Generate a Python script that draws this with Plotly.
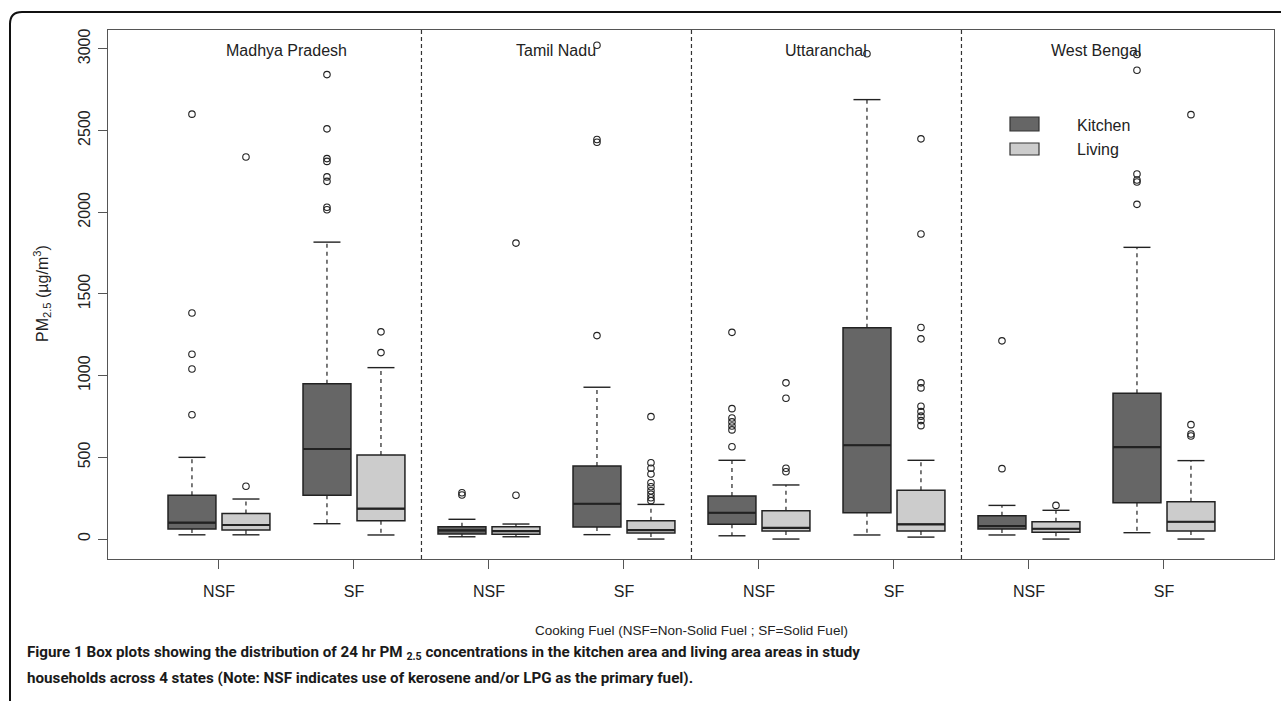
import plotly.graph_objects as go

# ---------------- data ----------------
states = ["Madhya Pradesh", "Tamil Nadu", "Uttaranchal", "West Bengal"]
fuel_labels = ["NSF", "SF"]

# order: MP-NSF, MP-SF, TN-NSF, TN-SF, UT-NSF, UT-SF, WB-NSF, WB-SF
kitchen_low = [26, 94, 14, 27, 20, 25, 25, 39]
kitchen_q1 = [61, 268, 31, 74, 90, 161, 61, 222]
kitchen_med = [100, 551, 53, 216, 161, 574, 80, 562]
kitchen_q3 = [268, 950, 75, 447, 263, 1293, 143, 892]
kitchen_up = [500, 1817, 121, 929, 482, 2689, 206, 1785]
kitchen_out = [
    [761, 1041, 1131, 1383, 2600],
    [2015, 2030, 2189, 2216, 2311, 2328, 2510, 2842],
    [270, 283],
    [1245, 2428, 2445, 3022],
    [565, 668, 692, 717, 741, 798, 1265],
    [2970],
    [431, 1213],
    [2048, 2185, 2197, 2234, 2869, 2965],
]

living_low = [26, 25, 14, 0, 0, 12, 0, 0]
living_q1 = [55, 112, 30, 37, 49, 49, 41, 49]
living_med = [86, 186, 48, 55, 69, 90, 63, 106]
living_q3 = [157, 515, 76, 112, 173, 298, 106, 229]
living_up = [245, 1049, 92, 212, 331, 482, 176, 480]
living_out = [
    [323, 2338],
    [1141, 1268],
    [268, 1811],
    [235, 253, 274, 296, 320, 345, 398, 433, 467, 749],
    [412, 433, 862, 956],
    [694, 725, 752, 780, 813, 925, 956, 1225, 1295, 1867, 2449],
    [206],
    [631, 643, 700, 2597],
]

y_ticks = [0, 500, 1000, 1500, 2000, 2500, 3000]

# ---------------- layout geometry ----------------
W, H = 1281, 701
L, R, T, B = 108, 7, 30, 142
PW = W - L - R
PH = H - T - B


def px(xp):
    return (xp - L) / PW


def py(yp):
    return (T + PH - yp) / PH


positions = list(range(1, 2 * len(states) + 1))
tick_text = fuel_labels * len(states)
OFF = 0.2
BOXW = 0.355
CAP = 0.1
LINE = "#222222"
FONT = "Liberation Sans, Arial, sans-serif"

fig = go.Figure()

series = [
    ("Kitchen", "#666666", -OFF, kitchen_low, kitchen_q1, kitchen_med, kitchen_q3, kitchen_up, kitchen_out),
    ("Living", "#cccccc", OFF, living_low, living_q1, living_med, living_q3, living_up, living_out),
]

for name, fill, off, low, q1, med, q3, up, outs in series:
    xs = [p + off for p in positions]
    # dashed whiskers
    wx, wy = [], []
    for x, lo, a, b, u in zip(xs, low, q1, q3, up):
        wx += [x, x, None, x, x, None]
        wy += [a, lo, None, b, u, None]
    fig.add_trace(go.Scatter(x=wx, y=wy, mode="lines",
                             line=dict(color=LINE, width=1.2, dash="4px,4px"),
                             showlegend=False, hoverinfo="skip"))
    # whisker caps
    cx, cy = [], []
    for x, lo, u in zip(xs, low, up):
        cx += [x - CAP, x + CAP, None, x - CAP, x + CAP, None]
        cy += [lo, lo, None, u, u, None]
    fig.add_trace(go.Scatter(x=cx, y=cy, mode="lines",
                             line=dict(color=LINE, width=1.4),
                             showlegend=False, hoverinfo="skip"))
    # boxes
    fig.add_trace(go.Box(x=xs, q1=q1, median=med, q3=q3,
                         lowerfence=q1, upperfence=q3,
                         width=BOXW, whiskerwidth=0,
                         fillcolor=fill, line=dict(color=LINE, width=1.5),
                         boxpoints=False, name=name, showlegend=False))
    # thicker median lines (R style)
    mx, my = [], []
    for x, m in zip(xs, med):
        mx += [x - BOXW / 2, x + BOXW / 2, None]
        my += [m, m, None]
    fig.add_trace(go.Scatter(x=mx, y=my, mode="lines",
                             line=dict(color=LINE, width=2.2),
                             showlegend=False, hoverinfo="skip"))
    # outliers
    ox, oy = [], []
    for x, o in zip(xs, outs):
        ox += [x] * len(o)
        oy += o
    fig.add_trace(go.Scatter(x=ox, y=oy, mode="markers",
                             marker=dict(symbol="circle-open", size=6.5,
                                         color=LINE, line=dict(width=1.1)),
                             showlegend=False, hoverinfo="skip"))

shapes = []
# dashed separators between states
for i in range(1, len(states)):
    xsep = 2 * i + 0.5
    shapes.append(dict(type="line", xref="x", yref="paper", x0=xsep, x1=xsep,
                       y0=0, y1=1, line=dict(color="#333", width=1.2, dash="4px,3px")))

# legend swatches
shapes.append(dict(type="rect", xref="paper", yref="paper",
                   x0=px(1010), x1=px(1039), y0=py(131), y1=py(117),
                   fillcolor="#666666", line=dict(color="#333", width=1.2)))
shapes.append(dict(type="rect", xref="paper", yref="paper",
                   x0=px(1010), x1=px(1039), y0=py(155), y1=py(143),
                   fillcolor="#cccccc", line=dict(color="#333", width=1.2)))

# outer rounded frame (top-left corner)
path = (f"M {px(10)} {py(720)} L {px(10)} {py(24)} "
        f"Q {px(10)} {py(12)} {px(22)} {py(12)} L {px(1300)} {py(12)}")
shapes.append(dict(type="path", xref="paper", yref="paper", path=path,
                   line=dict(color="#111", width=2)))

annotations = []
for i, s in enumerate(states):
    annotations.append(dict(text=s, xref="x", yref="paper", x=2 * i + 1.5, y=py(50),
                            showarrow=False, xanchor="center", yanchor="middle",
                            font=dict(size=16, family=FONT, color="#222")))

annotations.append(dict(text="Kitchen", xref="paper", yref="paper", x=px(1075), y=py(125),
                        showarrow=False, xanchor="left", yanchor="middle",
                        font=dict(size=16, family=FONT, color="#222")))
annotations.append(dict(text="Living", xref="paper", yref="paper", x=px(1075), y=py(149),
                        showarrow=False, xanchor="left", yanchor="middle",
                        font=dict(size=16, family=FONT, color="#222")))

annotations.append(dict(text="PM<sub>2.5</sub> (µg/m<sup>3</sup>)", xref="paper", yref="paper",
                        x=px(42), y=py(294), textangle=-90, showarrow=False,
                        xanchor="center", yanchor="middle",
                        font=dict(size=16, family=FONT, color="#222")))
annotations.append(dict(text="Cooking Fuel (NSF=Non-Solid Fuel ; SF=Solid Fuel)",
                        xref="paper", yref="paper", x=px(691), y=py(630),
                        showarrow=False, xanchor="center", yanchor="middle",
                        font=dict(size=13.5, family=FONT, color="#222")))

CAPFONT = "Roboto, Liberation Sans, sans-serif"
annotations.append(dict(text="<b>Figure 1</b> <b>Box plots showing the distribution of 24 hr PM <sub>2.5</sub> concentrations in the kitchen area and living area areas in study</b>",
                        xref="paper", yref="paper", x=px(25), y=py(653),
                        showarrow=False, xanchor="left", yanchor="middle",
                        font=dict(size=15.2, family=CAPFONT, color="#1a1a1a")))
annotations.append(dict(text="<b>households across 4 states (Note: NSF indicates use of kerosene and/or LPG as the primary fuel).</b>",
                        xref="paper", yref="paper", x=px(25), y=py(678),
                        showarrow=False, xanchor="left", yanchor="middle",
                        font=dict(size=15.2, family=CAPFONT, color="#1a1a1a")))

fig.update_layout(
    width=W, height=H, autosize=False,
    margin=dict(l=L, r=R, t=T, b=B, pad=0),
    paper_bgcolor="white", plot_bgcolor="white",
    boxmode="overlay",
    shapes=shapes, annotations=annotations,
    xaxis=dict(range=[0.178, 8.815], tickvals=positions, ticktext=tick_text,
               ticks="outside", ticklen=9, tickwidth=1.3, tickcolor="#555",
               ticklabelstandoff=9,
               showline=True, mirror=True, linecolor="#555", linewidth=1.4,
               showgrid=False, zeroline=False,
               tickfont=dict(size=16, family=FONT, color="#222")),
    yaxis=dict(range=[-122, 3115], tickvals=y_ticks,
               ticks="outside", ticklen=9, tickwidth=1.3, tickcolor="#555",
               tickangle=-90, ticklabelstandoff=1,
               showline=True, mirror=True, linecolor="#555", linewidth=1.4,
               showgrid=False, zeroline=False,
               tickfont=dict(size=16, family=FONT, color="#222")),
)

fig.write_html("out.html")
